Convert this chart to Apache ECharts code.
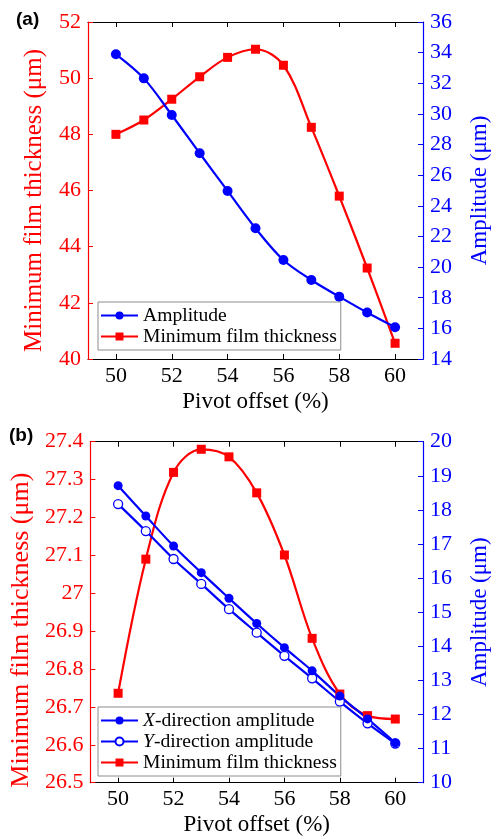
<!DOCTYPE html>
<html>
<head>
<meta charset="utf-8">
<script src="https://cdn.jsdelivr.net/npm/echarts@6/dist/echarts.min.js"></script>
<style>
  html, body { margin: 0; padding: 0; background: #fff; }
  #chart { width: 499px; height: 839px; }
</style>
</head>
<body>
<div id="chart"></div>
<script>
// Pivot offset (%) shared by both panels
const offsets = [50, 51, 52, 53, 54, 55, 56, 57, 58, 59, 60];
const xTickValues = [50, 52, 54, 56, 58, 60];

// Panel (a)
const filmA = [48.0, 48.51, 49.25, 50.05, 50.74, 51.03, 50.46, 48.25, 45.8, 43.24, 40.56];
const ampA = [33.89, 32.32, 29.93, 27.43, 24.97, 22.53, 20.46, 19.16, 18.07, 17.03, 16.07];

// Panel (b)
const filmB = [26.736, 27.09, 27.319, 27.38, 27.36, 27.265, 27.101, 26.881, 26.734, 26.677, 26.668];
const ampX = [18.71, 17.82, 16.94, 16.16, 15.41, 14.67, 13.96, 13.28, 12.54, 11.87, 11.17];
const ampY = [18.17, 17.38, 16.56, 15.83, 15.09, 14.40, 13.72, 13.06, 12.38, 11.74, 11.15];

const RED = '#ff0000';
const BLUE = '#0000ff';
const SERIF = "'Liberation Serif', 'Times New Roman', serif";

const pairs = ys => offsets.map((x, i) => [x, ys[i]]);

function bottomX(gridIndex) {
  return {
    type: 'value', gridIndex, position: 'bottom', min: 49, max: 61,
    name: 'Pivot offset (%)', nameLocation: 'middle', nameGap: 31,
    nameTextStyle: { color: '#000', fontFamily: SERIF, fontSize: 23 },
    axisLine: { show: true, onZero: false, lineStyle: { color: '#000', width: 1.2 } },
    axisTick: { show: true, inside: true, length: 5, customValues: xTickValues, lineStyle: { color: '#000' } },
    axisLabel: { show: true, customValues: xTickValues, margin: 6, color: '#000', fontFamily: SERIF, fontSize: 22 },
    splitLine: { show: false }
  };
}
function topX(gridIndex) {
  return {
    type: 'value', gridIndex, position: 'top', min: 49, max: 61,
    axisLine: { show: true, onZero: false, lineStyle: { color: '#000', width: 1.2 } },
    axisTick: { show: true, inside: true, length: 5, customValues: xTickValues, lineStyle: { color: '#000' } },
    axisLabel: { show: false },
    splitLine: { show: false }
  };
}
// namePad: extra padding on the text's trailing side, nudging the rotated name downward
function sideY(gridIndex, position, min, max, interval, color, name, nameGap, nameSize, namePad, fmt) {
  return {
    type: 'value', gridIndex, position, min, max, interval,
    name, nameLocation: 'middle', nameGap,
    nameTextStyle: { color, fontFamily: SERIF, fontSize: nameSize, padding: [0, namePad, 0, 0] },
    axisLine: { show: true, onZero: false, lineStyle: { color, width: 1.2 } },
    axisTick: { show: true, inside: true, length: 5, lineStyle: { color } },
    axisLabel: { color, fontFamily: SERIF, fontSize: 22, margin: 7, formatter: fmt },
    splitLine: { show: false }
  };
}

const legendText = {
  color: '#000', fontFamily: SERIF, fontSize: 19.6, lineHeight: 21,
  rich: {
    i: { fontStyle: 'italic', fontFamily: SERIF, fontSize: 19.6, color: '#000' },
    n: { fontFamily: SERIF, fontSize: 19.6, color: '#000' }
  }
};
function legendFormatter(name) {
  if (name.startsWith('X-') || name.startsWith('Y-')) {
    return '{i|' + name.charAt(0) + '}{n|' + name.slice(1) + '}';
  }
  return name;
}

function lineSeries(name, data, xi, yi, color, symbol, size, hollow) {
  return {
    name, type: 'line', xAxisIndex: xi, yAxisIndex: yi, data: pairs(data),
    smooth: 0.35, symbol, symbolSize: size, showSymbol: true,
    lineStyle: { color, width: 2.2 },
    itemStyle: hollow ? { color: '#fff', borderColor: color, borderWidth: 1.3 } : { color },
    emphasis: { disabled: true }, animation: false
  };
}

const chart = echarts.init(document.getElementById('chart'), null, { renderer: 'canvas' });
chart.setOption({
  backgroundColor: '#fff',
  animation: false,
  grid: [
    { left: 88, top: 22, width: 343.2, height: 337 },
    { left: 88.3, top: 441.7, width: 346.4, height: 341 }
  ],
  xAxis: [bottomX(0), topX(0), bottomX(1), topX(1)],
  yAxis: [
    sideY(0, 'left', 40, 52, 2, RED, 'Minimum film thickness (μm)', 41, 25, 20),
    sideY(0, 'right', 14, 36, 2, BLUE, 'Amplitude (μm)', 45, 23, 0),
    sideY(1, 'left', 26.5, 27.4, 0.1, RED, 'Minimum film thickness (μm)', 53, 26, 36, v => String(+v.toFixed(1))),
    sideY(1, 'right', 10, 20, 1, BLUE, 'Amplitude (μm)', 45, 23, 0)
  ],
  legend: [
    {
      data: ['Amplitude', 'Minimum film thickness'],
      orient: 'vertical', left: 98, top: 302,
      itemWidth: 37, itemHeight: 10, itemGap: 0,
      padding: [3, 4, 3, 2],
      borderColor: '#8c8c8c', borderWidth: 1, backgroundColor: '#fff',
      textStyle: legendText, formatter: legendFormatter
    },
    {
      data: ['X-direction amplitude', 'Y-direction amplitude', 'Minimum film thickness (b)'],
      orient: 'vertical', left: 98, top: 707,
      itemWidth: 37, itemHeight: 10, itemGap: 0,
      padding: [3, 4, 3, 2],
      borderColor: '#8c8c8c', borderWidth: 1, backgroundColor: '#fff',
      textStyle: legendText,
      formatter: name => legendFormatter(name.replace(' (b)', ''))
    }
  ],
  series: [
    lineSeries('Minimum film thickness', filmA, 0, 0, RED, 'rect', 9, false),
    lineSeries('Amplitude', ampA, 0, 1, BLUE, 'circle', 10, false),
    lineSeries('Minimum film thickness (b)', filmB, 2, 2, RED, 'rect', 9, false),
    lineSeries('Y-direction amplitude', ampY, 2, 3, BLUE, 'circle', 9, true),
    lineSeries('X-direction amplitude', ampX, 2, 3, BLUE, 'circle', 9, false)
  ],
  graphic: [
    { type: 'text', left: 16, top: 10, style: { text: '(a)', font: "bold 19px 'Liberation Sans', Arial, sans-serif", fill: '#000' } },
    { type: 'text', left: 9, top: 426, style: { text: '(b)', font: "bold 19px 'Liberation Sans', Arial, sans-serif", fill: '#000' } }
  ]
});
</script>
</body>
</html>
